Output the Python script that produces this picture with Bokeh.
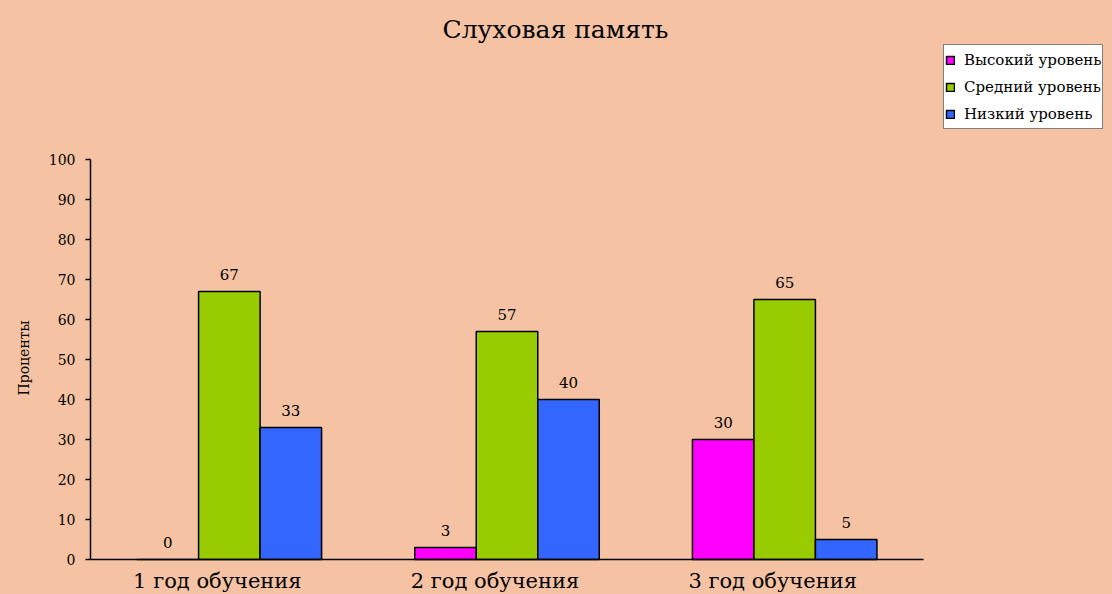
from bokeh.plotting import figure
from bokeh.models import (Range1d, ColumnDataSource, LabelSet, Label, Title,
                          Legend, LegendItem, FixedTicker)
from bokeh.core.properties import value
from bokeh.embed import file_html
from bokeh.resources import INLINE

# ---- data ----
categories = ["1 год обучения", "2 год обучения", "3 год обучения"]
series_names = ["Высокий уровень", "Средний уровень", "Низкий уровень"]
high = [0, 3, 30]
mid = [67, 57, 65]
low = [33, 40, 5]
y_ticks = [0, 10, 20, 30, 40, 50, 60, 70, 80, 90, 100]
title_text = "Слуховая память"
y_label = "Проценты"

colors = ["#FF00FF", "#99CC00", "#3366FF"]
BG = "#F5C3A3"
FONT = "DejaVu Serif"

# layout constants (pixels)
W, H = 1112, 594
LEFT = 90          # frame left edge
Y0_PX = 559        # pixel row of value 0
PX_PER_UNIT = 4.0  # pixels per percent
GROUP_PX = 277.67  # pixels per category

n = len(categories)
centers = [i + 0.5 for i in range(n)]
keys = ["high", "mid", "low"]
src = ColumnDataSource(dict(
    cat=categories, xc=centers, zero=[0] * n, high=high, mid=mid, low=low,
    high_s=[str(v) for v in high], mid_s=[str(v) for v in mid], low_s=[str(v) for v in low],
))

frame_w = W - LEFT
p = figure(width=W, height=H, title=None,
           x_range=Range1d(0, frame_w / GROUP_PX),
           y_range=Range1d(-(H - Y0_PX) / PX_PER_UNIT, Y0_PX / PX_PER_UNIT),
           x_axis_location=None,
           toolbar_location=None, output_backend="svg",
           background_fill_color=BG, border_fill_color=BG,
           outline_line_color=None,
           min_border_left=LEFT, min_border_right=0,
           min_border_top=0, min_border_bottom=0)
p.grid.visible = False

bw = 0.2215
offsets = [-bw, 0, bw]
renderers = []
for k, off, c in zip(keys, offsets, colors):
    xs = [x + off for x in centers]
    src.data["x_" + k] = xs
    r = p.vbar(x="x_" + k, top=k, width=bw, source=src,
               fill_color=c, line_color="black", line_width=1.5)
    renderers.append(r)
    lbl = LabelSet(x="x_" + k, y=k, text=k + "_s", source=src,
                   y_offset=12, text_align="center", text_baseline="alphabetic",
                   text_font=value(FONT), text_font_size="15px", text_color="black")
    p.add_layout(lbl)

# x axis baseline and category labels
p.segment(x0=[0], y0=[0], x1=[n], y1=[0], line_color="black", line_width=1.5)
cat_lbl = LabelSet(x="xc", y="zero", text="cat", source=src, x_offset=-12, y_offset=-28,
                   text_align="center", text_baseline="alphabetic",
                   text_font=value(FONT), text_font_size="21px", text_color="black")
p.add_layout(cat_lbl)

# y axis
ya = p.yaxis[0]
ya.ticker = FixedTicker(ticks=y_ticks)
ya.bounds = (0, 100)
ya.axis_line_color = "black"
ya.axis_line_width = 1.5
ya.major_tick_line_color = "black"
ya.major_tick_line_width = 1.5
ya.major_tick_out = 5
ya.major_tick_in = 0
ya.minor_tick_line_color = None
ya.major_label_text_font = FONT
ya.major_label_text_font_size = "14px"
ya.major_label_text_color = "black"
ya.major_label_standoff = 10

# y axis title, centred on the 0..100 part of the axis
ytitle = Title(text=y_label, align="left", offset=H - 395, vertical_align="top",
               standoff=24, text_font=FONT, text_font_size="14px",
               text_font_style="normal", text_color="black")
p.add_layout(ytitle, "left")

# chart title (screen units relative to the frame's bottom-left)
title = Label(x=555 - LEFT, y=H - 29, x_units="screen", y_units="screen", text=title_text,
              text_align="center", text_baseline="alphabetic",
              text_font=FONT, text_font_size="25px", text_color="black")
p.add_layout(title)

legend = Legend(items=[LegendItem(label=s, renderers=[r]) for s, r in zip(series_names, renderers)],
                location=(943 - LEFT, H - 129), orientation="vertical",
                border_line_color="black", border_line_width=1,
                background_fill_color="white", background_fill_alpha=1,
                label_text_font=FONT, label_text_font_size="15px", label_text_color="black",
                glyph_width=10, glyph_height=10, label_height=27, spacing=0,
                padding=1, margin=0, label_standoff=9)
p.add_layout(legend)

tmpl = """{% block preamble %}<style>html, body {margin:0 !important; padding:0 !important; background:#F5C3A3; overflow:hidden;}</style>{% endblock %}"""
open("out.html", "w").write(file_html(p, INLINE, template=tmpl))
